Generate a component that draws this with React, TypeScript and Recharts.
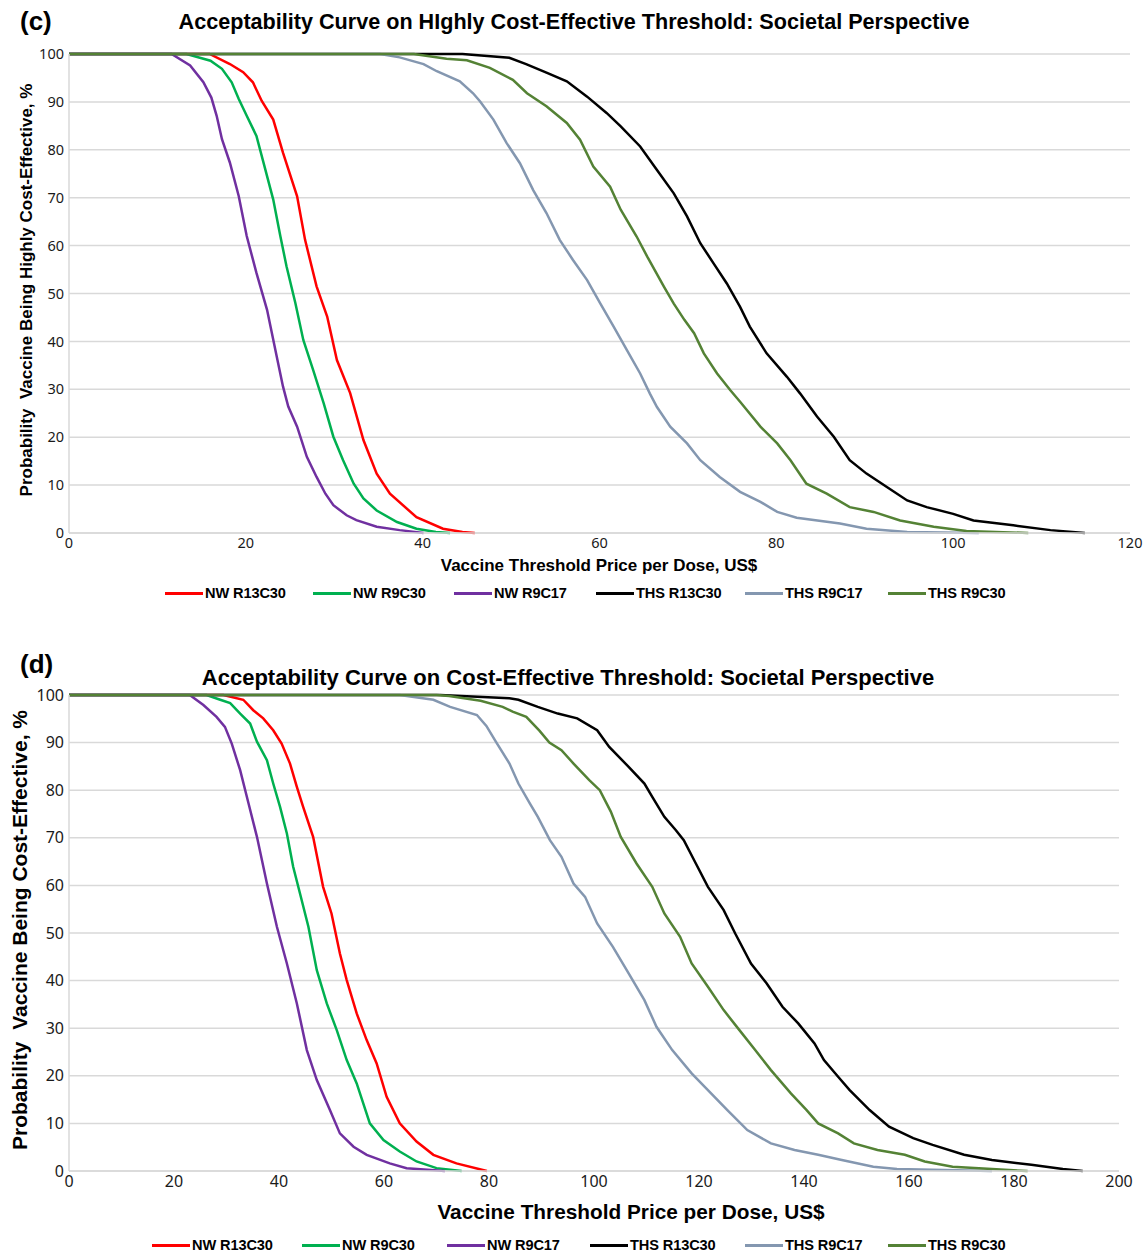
import { LineChart, Line, XAxis, YAxis, CartesianGrid } from "recharts"

type Pt = [number, number]

// (c) highly cost-effective threshold: [price US$, probability %]
const cNwR13C30: Pt[] = [[0,100],[15.9,100],[18.2,97.9],[19.7,96.2],[20.8,94.1],[21.8,90.2],[23.1,86.3],[24.2,79.4],[25.8,70.3],[26.7,61.2],[28.0,51.5],[29.2,45.2],[30.3,36.1],[31.8,29.2],[33.3,19.4],[34.8,12.4],[36.3,8.2],[39.3,3.3],[42.3,0.9],[44.5,0.2],[45.9,0]]
const cNwR9C30: Pt[] = [[0,100],[13.3,100],[16.0,98.6],[17.3,96.9],[18.4,94.1],[19.2,90.6],[20.1,87.1],[21.2,82.9],[22.2,75.9],[23.1,69.6],[23.9,62.0],[24.6,55.7],[25.6,48.0],[26.5,40.3],[27.6,34.1],[28.8,27.1],[29.9,20.1],[31.0,15.2],[32.2,10.3],[33.3,7.2],[34.8,4.7],[37.1,2.3],[39.3,0.9],[41.5,0.2],[43.1,0]]
const cNwR9C17: Pt[] = [[0,100],[11.6,100],[13.7,97.6],[15.2,94.1],[16.1,90.9],[16.7,87.1],[17.3,82.2],[18.2,77.3],[19.2,70.3],[20.1,62.0],[21.2,54.3],[22.4,46.6],[23.5,36.8],[24.2,30.6],[24.8,26.4],[25.8,22.2],[26.9,15.9],[28.0,11.7],[29.0,8.2],[29.9,5.8],[31.4,3.7],[32.5,2.7],[34.8,1.3],[37.4,0.6],[40.1,0]]
const cThsR13C30: Pt[] = [[0,100],[44.5,100],[49.8,99.2],[51.7,97.9],[54.0,96.1],[56.3,94.3],[58.6,91.1],[60.8,87.7],[62.4,84.9],[64.6,80.7],[66.5,75.8],[68.4,70.9],[69.9,66.1],[71.4,60.5],[72.9,56.3],[74.4,52.1],[75.9,47.2],[77.0,43.1],[78.9,37.5],[81.2,32.6],[82.7,29.1],[84.6,24.3],[86.5,20.1],[88.3,15.2],[90.2,12.4],[92.5,9.6],[94.8,6.8],[97.0,5.4],[100.0,4.0],[102.3,2.6],[106.8,1.6],[111.0,0.6],[114.9,0]]
const cThsR9C17: Pt[] = [[0,100],[35.2,100],[37.4,99.3],[40.1,97.9],[41.6,96.4],[44.2,94.3],[45.7,91.8],[46.5,90.1],[48.0,86.3],[49.5,81.4],[51.0,77.2],[52.5,71.6],[54.0,66.8],[55.5,61.2],[57.0,57.0],[58.6,52.8],[60.1,47.9],[61.6,43.1],[63.1,38.2],[64.6,33.3],[65.7,29.1],[66.5,26.3],[68.0,22.2],[69.9,18.7],[71.4,15.2],[73.6,11.7],[75.9,8.6],[78.2,6.5],[80.1,4.4],[82.3,3.2],[87.2,2.0],[90.2,0.9],[94.8,0.2],[102.9,0]]
const cThsR9C30: Pt[] = [[0,100],[39.0,100],[42.7,99.0],[45.0,98.7],[47.6,97.1],[50.2,94.6],[51.8,91.8],[54.0,89.1],[56.3,85.6],[57.8,82.1],[59.3,76.5],[61.2,72.3],[62.4,67.5],[64.2,61.9],[65.4,57.7],[67.3,51.4],[68.4,47.9],[69.6,44.5],[70.7,41.7],[71.8,37.5],[73.3,33.3],[74.8,29.8],[75.9,27.4],[78.2,22.2],[80.1,18.7],[81.6,15.2],[83.4,10.3],[85.7,8.2],[88.3,5.4],[91.0,4.4],[94.0,2.6],[97.8,1.3],[101.5,0.4],[108.5,0]]

// (d) cost-effective threshold
const dNwR13C30: Pt[] = [[0,100],[29.4,100],[33.2,99.0],[35.1,96.8],[37.0,95.1],[38.9,92.6],[40.5,89.8],[42.1,85.6],[43.4,80.7],[44.6,76.5],[46.5,70.2],[48.4,59.7],[50.0,54.1],[51.6,45.7],[52.9,40.1],[54.8,33.1],[56.7,27.5],[58.6,22.6],[60.5,15.6],[63.0,10.0],[66.2,6.2],[69.4,3.4],[73.8,1.6],[79.6,0]]
const dNwR9C30: Pt[] = [[0,100],[26.2,100],[28.8,99.0],[30.7,98.3],[32.6,96.1],[34.5,94.0],[35.8,90.2],[37.7,86.3],[38.9,81.4],[40.2,76.5],[41.5,70.9],[42.7,63.9],[44.0,58.3],[45.6,51.3],[47.2,42.2],[49.1,35.2],[51.0,29.6],[52.9,23.3],[54.8,18.4],[57.3,10.0],[59.9,6.5],[63.0,4.1],[66.2,2.0],[70.0,0.6],[74.8,0]]
const dNwR9C17: Pt[] = [[0,100],[23.0,100],[25.6,97.9],[28.1,95.4],[29.7,93.3],[31.0,89.8],[32.6,84.2],[34.2,77.2],[35.8,70.2],[37.7,60.4],[39.6,51.3],[41.5,43.6],[43.4,35.2],[45.3,25.4],[47.2,19.1],[49.7,12.8],[51.6,7.9],[54.2,5.1],[56.7,3.4],[61.1,1.6],[64.3,0.6],[71.6,0]]
const dThsR13C30: Pt[] = [[0,100],[70.7,100],[78.8,99.6],[83.9,99.3],[85.6,99.0],[89.3,97.5],[93.1,96.1],[96.8,95.1],[100.6,92.6],[102.9,89.1],[106.6,84.9],[109.6,81.4],[111.1,78.6],[113.4,74.4],[115.6,71.6],[117.1,69.5],[119.4,64.6],[121.7,59.7],[124.7,54.8],[126.9,49.9],[129.9,43.6],[132.9,39.4],[135.9,34.5],[138.9,31.0],[142.0,26.8],[143.8,23.3],[146.5,19.8],[148.7,17.0],[152.5,12.8],[156.2,9.3],[160.8,6.9],[164.5,5.5],[170.5,3.4],[175.8,2.3],[183.3,1.3],[189.3,0.4],[193.1,0]]
const dThsR9C17: Pt[] = [[0,100],[63.0,100],[69.4,99.0],[72.6,97.5],[77.7,95.8],[79.5,93.5],[81.3,90.2],[83.9,85.6],[85.6,81.4],[87.8,77.2],[89.3,74.4],[91.6,69.5],[93.8,66.0],[96.1,60.4],[98.3,57.6],[100.6,52.0],[103.6,47.1],[106.6,41.5],[109.6,35.9],[111.9,30.3],[114.9,25.4],[118.6,20.5],[121.7,17.0],[125.4,12.8],[129.2,8.6],[133.7,5.8],[138.2,4.4],[142.7,3.4],[147.2,2.3],[153.2,0.9],[157.7,0.4],[175.8,0]]
const dThsR9C30: Pt[] = [[0,100],[70.0,100],[72.4,99.8],[78.4,98.8],[82.6,97.5],[84.5,96.5],[87.1,95.4],[89.6,92.5],[91.5,90.0],[93.8,88.4],[96.1,85.6],[99.1,82.1],[101.1,80.0],[103.2,75.5],[105.1,70.2],[108.1,64.6],[111.1,59.7],[113.4,54.1],[116.4,49.2],[118.6,43.6],[121.7,38.7],[124.7,33.8],[127.7,29.6],[130.7,25.4],[133.7,21.2],[137.5,16.3],[140.5,12.8],[142.7,10.0],[146.5,7.9],[149.5,5.8],[154.0,4.4],[159.2,3.4],[163.0,2.0],[168.3,0.9],[175.8,0.4],[182.6,0]]

const seriesNames = ["NW R13C30", "NW R9C30", "NW R9C17", "THS R13C30", "THS R9C17", "THS R9C30"]
const seriesColors = ["#ff0000", "#00b050", "#7030a0", "#000000", "#8497b0", "#548235"]
const probTicks = [0, 10, 20, 30, 40, 50, 60, 70, 80, 90, 100]
const cPriceTicks = [0, 20, 40, 60, 80, 100, 120]
const dPriceTicks = [0, 20, 40, 60, 80, 100, 120, 140, 160, 180, 200]

const ARIAL = "'Liberation Sans', Arial, sans-serif"
const TICKFONT = "'Noto Sans', 'Open Sans', sans-serif"

const toPts = (a: Pt[]) => a.map(([x, y]) => ({ x, y }))

interface PanelProps {
  top: number
  height: number
  letter: string
  letterY: number
  title: string
  titleSize: number
  titleX: number
  titleY: number
  yLabel: string
  yLabelSize: number
  yLabelX: number
  yLabelY: number
  xLabelSize: number
  xLabelX: number
  xLabelY: number
  tickSize: number
  plotTop: number
  plotBottom: number
  plotRight: number
  xTicks: number[]
  series: Pt[][]
  legendXs: number[]
  legendY: number
}

function Panel(p: PanelProps) {
  const xMax = p.xTicks[p.xTicks.length - 1]
  return (
    <div style={{ position: "absolute", left: 0, top: p.top, width: 1148, height: p.height }}>
      <LineChart
        width={1148}
        height={p.height}
        margin={{ top: p.plotTop - p.top, right: 1148 - p.plotRight, bottom: p.height - (p.plotBottom - p.top) - 30, left: 9 }}
        style={{ position: "absolute", left: 0, top: 0 }}
      >
        <CartesianGrid vertical={false} stroke="#d9d9d9" strokeWidth={1.5} />
        <XAxis
          type="number"
          dataKey="x"
          domain={[0, xMax]}
          ticks={p.xTicks}
          height={30}
          tickLine={false}
          tickSize={0}
          tickMargin={5}
          axisLine={{ stroke: "#d9d9d9", strokeWidth: 1.5 }}
          tick={{ fill: "#1a1a1a", fontSize: p.tickSize, fontFamily: TICKFONT }}
          allowDataOverflow
        />
        <YAxis
          type="number"
          domain={[0, 100]}
          ticks={probTicks}
          width={60}
          tickLine={false}
          tickSize={0}
          tickMargin={5}
          axisLine={{ stroke: "#d9d9d9", strokeWidth: 1.5 }}
          tick={{ fill: "#1a1a1a", fontSize: p.tickSize, fontFamily: TICKFONT }}
        />
        {p.series.map((s, i) => (
          <Line
            key={seriesNames[i]}
            data={toPts(s)}
            dataKey="y"
            type="linear"
            stroke={seriesColors[i]}
            strokeWidth={2.5}
            dot={false}
            activeDot={false}
            isAnimationActive={false}
          />
        ))}
      </LineChart>
      <div style={{ position: "absolute", left: 20, top: p.letterY - p.top, transform: "translateY(-50%)", fontFamily: ARIAL, fontWeight: 700, fontSize: 26, lineHeight: "30px" }}>
        {p.letter}
      </div>
      <div style={{ position: "absolute", left: p.titleX, top: p.titleY - p.top, transform: "translate(-50%,-50%)", fontFamily: ARIAL, fontWeight: 700, fontSize: p.titleSize, whiteSpace: "pre" }}>
        {p.title}
      </div>
      <div style={{ position: "absolute", left: p.yLabelX, top: p.yLabelY - p.top, transform: "translate(-50%,-50%) rotate(-90deg)", fontFamily: ARIAL, fontWeight: 700, fontSize: p.yLabelSize, whiteSpace: "pre" }}>
        {p.yLabel}
      </div>
      <div style={{ position: "absolute", left: p.xLabelX, top: p.xLabelY - p.top, transform: "translate(-50%,-50%)", fontFamily: ARIAL, fontWeight: 700, fontSize: p.xLabelSize, whiteSpace: "pre" }}>
        Vaccine Threshold Price per Dose, US$
      </div>
      {seriesNames.map((n, i) => (
        <div key={n} style={{ position: "absolute", left: p.legendXs[i], top: p.legendY - p.top, transform: "translateY(-50%)", display: "flex", alignItems: "center" }}>
          <div style={{ width: 38, height: 3, background: seriesColors[i], marginRight: 2 }} />
          <span style={{ fontFamily: ARIAL, fontWeight: 700, fontSize: 14.6, letterSpacing: -0.12, whiteSpace: "pre" }}>{n}</span>
        </div>
      ))}
    </div>
  )
}

export default function App() {
  return (
    <div style={{ position: "absolute", left: 0, top: 0, width: 1148, height: 1253, background: "#fff", overflow: "hidden" }}>
      <Panel
        top={0}
        height={620}
        letter="(c)"
        letterY={21}
        title="Acceptability Curve on HIghly Cost-Effective Threshold: Societal Perspective"
        titleSize={21.6}
        titleX={574}
        titleY={22}
        yLabel="Probability  Vaccine Being Highly Cost-Effective, %"
        yLabelSize={17}
        yLabelX={27}
        yLabelY={290}
        xLabelSize={17}
        xLabelX={599}
        xLabelY={566}
        tickSize={14.5}
        plotTop={54}
        plotBottom={533}
        plotRight={1130}
        xTicks={cPriceTicks}
        series={[cNwR13C30, cNwR9C30, cNwR9C17, cThsR13C30, cThsR9C17, cThsR9C30]}
        legendXs={[165, 313, 454, 596, 745, 888]}
        legendY={593}
      />
      <Panel
        top={640}
        height={613}
        letter="(d)"
        letterY={664}
        title="Acceptability Curve on Cost-Effective Threshold: Societal Perspective"
        titleSize={22}
        titleX={568}
        titleY={678}
        yLabel="Probability  Vaccine Being Cost-Effective, %"
        yLabelSize={21}
        yLabelX={20}
        yLabelY={930}
        xLabelSize={20.8}
        xLabelX={631}
        xLabelY={1212}
        tickSize={16}
        plotTop={695}
        plotBottom={1171}
        plotRight={1119}
        xTicks={dPriceTicks}
        series={[dNwR13C30, dNwR9C30, dNwR9C17, dThsR13C30, dThsR9C17, dThsR9C30]}
        legendXs={[152, 302, 447, 590, 745, 888]}
        legendY={1245}
      />
    </div>
  )
}
